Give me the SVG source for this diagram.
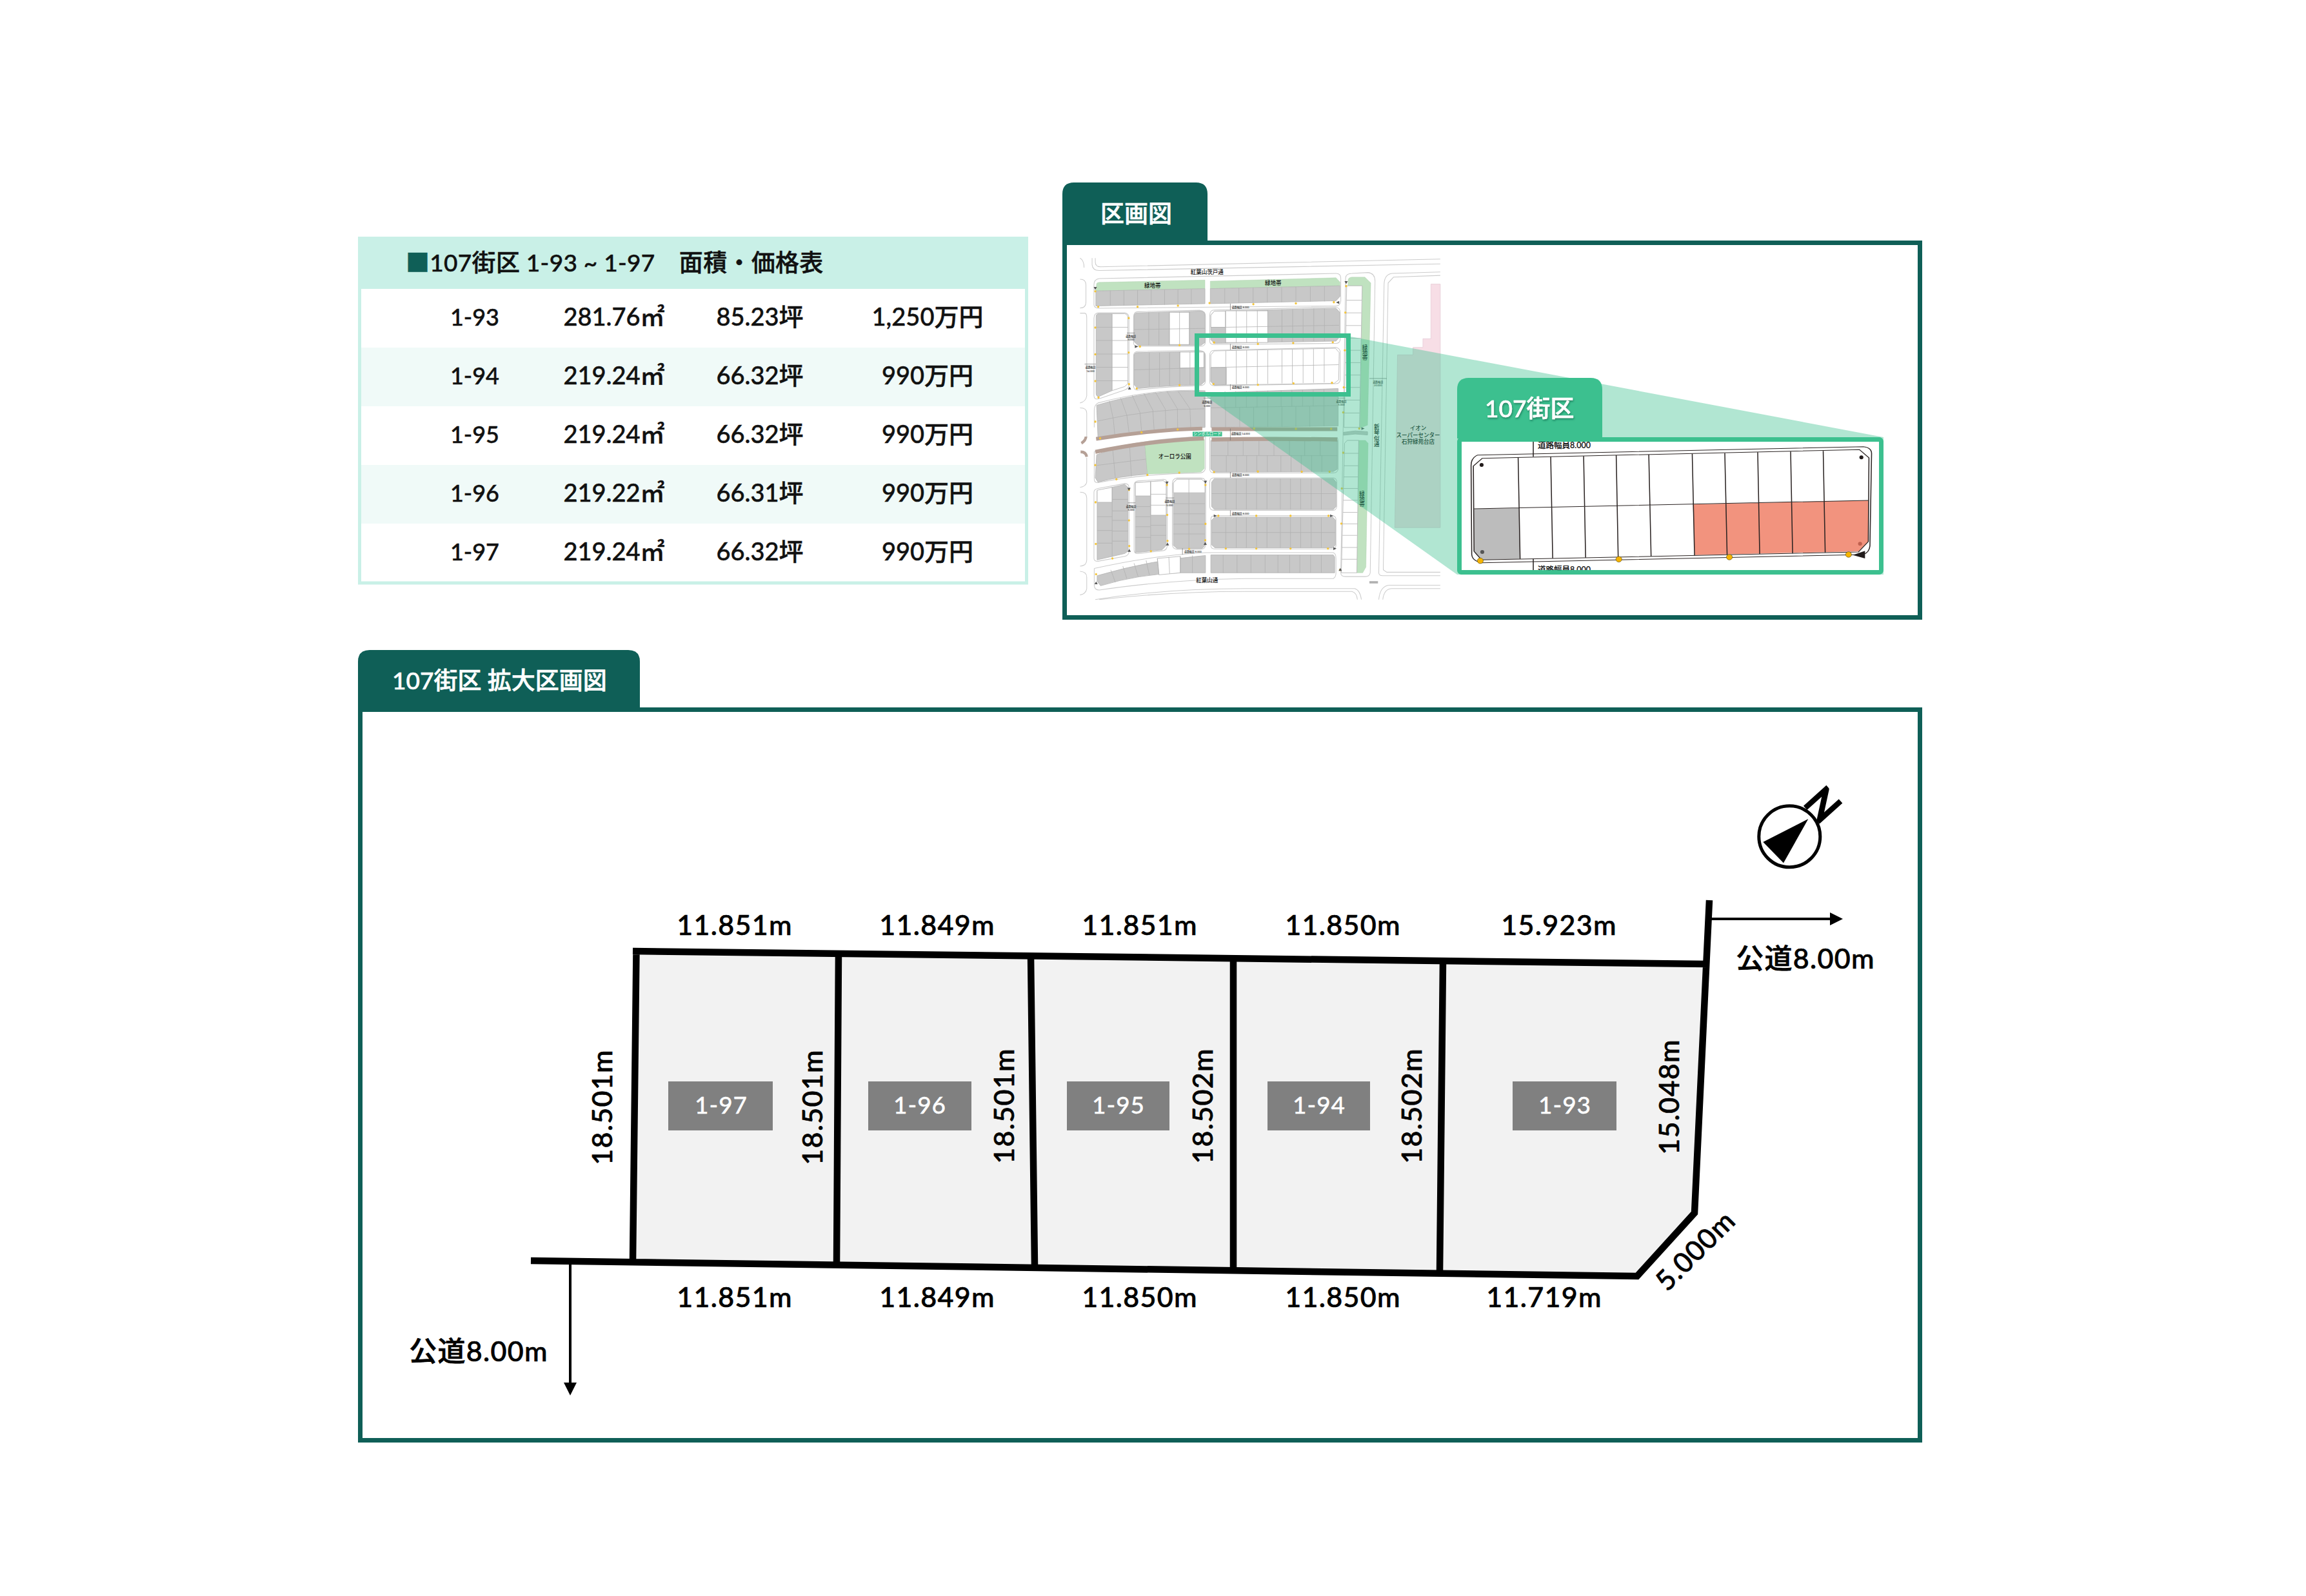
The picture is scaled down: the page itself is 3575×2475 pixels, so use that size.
<svg xmlns="http://www.w3.org/2000/svg" width="3575" height="2475" viewBox="0 0 3575 2475">
<style>
text{font-family:"Lato","Noto Sans CJK JP","Noto Sans",sans-serif;font-weight:500;fill:#111}
.cell{font-size:38px;text-anchor:middle;stroke:#111;stroke-width:.5}
.cid{font-size:36px}
.th{font-size:37px;letter-spacing:.3px;stroke:#111;stroke-width:.5}
.tabt{font-size:37px;fill:#fff;stroke:#fff;stroke-width:.6}
.dim{font-size:43px;letter-spacing:1.3px;text-anchor:middle;fill:#000;stroke:#000;stroke-width:.7}
.lot{fill:#808080}
.lott{font-size:37px;fill:#fff;text-anchor:middle;letter-spacing:1px;stroke:#fff;stroke-width:.3}
.frame{fill:none;stroke:#0f5f57;stroke-width:7}
.tab{fill:#0f5f57}
.b{stroke:#000;stroke-width:10.5;fill:none;stroke-linecap:butt;stroke-linejoin:miter}
.g{fill:#c8c8c8;stroke:#b6b6b6;stroke-width:2}
.w{fill:#fff;stroke:#b6b6b6;stroke-width:2}
.l{fill:none;stroke:#b0b0b0;stroke-width:1.8}
.r{fill:none;stroke:#cccccc;stroke-width:2.5}
.gr{fill:#c0e2c0;stroke:#aecfae;stroke-width:1}
.br{fill:none;stroke:#b5a096}
.y{fill:#f4c53c}
.mt{font-size:20.5px;fill:#666;text-anchor:middle;font-weight:400}
.mts{font-size:9.5px;fill:#555;text-anchor:middle;font-weight:400}
.d{fill:none;stroke:#666;stroke-width:1.5}
.in{fill:none;stroke:#2a2322;stroke-width:3}
.yb{fill:#f6b400;stroke:#5a4a10;stroke-width:1.5}
</style>
<defs>
<filter id="sh" x="-10%" y="-10%" width="120%" height="130%"><feDropShadow dx="1" dy="2" stdDeviation="1.5" flood-color="#0d5a45" flood-opacity=".6"/></filter>
<clipPath id="insetclip"><rect x="2265" y="685" width="649" height="199"/></clipPath>
</defs>
<rect width="3575" height="2475" fill="#fff"/>

<g id="price-table">
<rect x="557.5" y="369.5" width="1034" height="534.5" fill="#fff" stroke="#c9f0e7" stroke-width="5"/>
<rect x="555" y="367" width="1039" height="81" fill="#c9f0e7"/>
<rect x="560" y="539" width="1029" height="91" fill="#f0faf8"/>
<rect x="560" y="721" width="1029" height="91" fill="#f0faf8"/>
<text class="th" x="629" y="421"><tspan fill="#0f5f57" stroke="#0f5f57">■</tspan>107街区 1-93 ~ 1-97　面積・価格表</text>
<g class="row"><text class="cell cid" x="736" y="505">1-93</text><text class="cell" x="952" y="505">281.76㎡</text><text class="cell" x="1178" y="505">85.23坪</text><text class="cell" x="1438" y="505">1,250万円</text></g>
<g class="row"><text class="cell cid" x="736" y="596">1-94</text><text class="cell" x="952" y="596">219.24㎡</text><text class="cell" x="1178" y="596">66.32坪</text><text class="cell" x="1438" y="596">990万円</text></g>
<g class="row"><text class="cell cid" x="736" y="687">1-95</text><text class="cell" x="952" y="687">219.24㎡</text><text class="cell" x="1178" y="687">66.32坪</text><text class="cell" x="1438" y="687">990万円</text></g>
<g class="row"><text class="cell cid" x="736" y="778">1-96</text><text class="cell" x="952" y="778">219.22㎡</text><text class="cell" x="1178" y="778">66.31坪</text><text class="cell" x="1438" y="778">990万円</text></g>
<g class="row"><text class="cell cid" x="736" y="869">1-97</text><text class="cell" x="952" y="869">219.24㎡</text><text class="cell" x="1178" y="869">66.32坪</text><text class="cell" x="1438" y="869">990万円</text></g>
</g>

<g id="area-map-panel">
<rect class="frame" x="1650.5" y="376.5" width="1326" height="581"/>
<path class="tab" d="M1647 380V301Q1647 283 1665 283H1854Q1872 283 1872 301V380Z"/>
<text class="tabt" x="1706" y="345">区画図</text>
</g>

<g id="area-map" transform="translate(1640,270) scale(0.4146,0.4464)">
<path fill="#f7dee6" stroke="#e2c4d0" stroke-width="1.5" d="M1270 628H1328V602H1365V572H1395V382H1430V1228H1260Z"/>
<path class="r" d="M128 292V315Q130 335 155 335L1430 312M140 292V305Q140 322 160 322L1430 295M83 292Q98 300 98 325M83 365Q105 365 105 385V445Q105 465 83 465M83 483H100Q108 483 108 500V770Q105 790 83 795M83 812Q108 812 108 830V915M83 1105Q108 1105 108 1125V1340Q108 1360 83 1362M83 1380Q108 1382 108 1400V1440Q105 1458 83 1462M108 985V1070Q105 1085 83 1088"/>
<path class="r" d="M135 455V385Q135 365 155 363L1040 345Q1058 345 1058 362V440Q1056 458 1040 458L155 466Q137 466 135 455ZM1076 360Q1078 345 1100 345L1160 342Q1186 345 1186 372L1168 1385Q1165 1398 1150 1398H1075Q1058 1398 1058 1385ZM1430 340L1250 345Q1222 348 1220 380L1200 1385Q1200 1395 1215 1395H1430M1430 352L1255 358L1235 378L1217 1360V1375L1230 1383H1430M140 1478Q400 1440 700 1440H1110Q1130 1445 1135 1478M155 1478Q420 1450 700 1450H1100Q1118 1455 1120 1478M1200 1478Q1205 1430 1240 1428H1430M1215 1478Q1220 1440 1250 1440H1430M136 1370V1430Q138 1445 155 1445Q400 1410 700 1405H1030Q1040 1400 1040 1385M136 1370Q350 1325 552 1315H1030Q1040 1318 1040 1335V1385"/>
<path class="r" d="M135 500Q135 482 155 482H250Q266 485 266 500V730Q266 745 250 750L155 780Q135 785 135 770ZM283 498Q283 478 300 478L530 473Q552 475 552 495V580Q552 598 535 598H300Q283 598 283 585ZM283 632Q283 616 300 616L530 612Q552 615 552 630V720Q550 735 530 735Q400 738 300 750Q283 752 283 735ZM568 490Q568 472 585 472L1040 462Q1056 465 1056 482V575Q1054 588 1040 588L585 592Q568 592 568 580ZM568 630Q568 612 585 612L1040 602Q1056 605 1056 620V715Q1054 728 1040 728L585 735Q568 735 568 722ZM136 880V820Q136 802 150 795Q350 745 550 752V880M136 985V965Q350 915 552 912V1020Q550 1035 535 1038Q320 1040 150 1072Q136 1072 136 1060ZM568 915H1045Q1048 920 1048 935V1025Q1045 1038 1030 1038H585Q568 1038 568 1025ZM568 1070Q568 1055 585 1055H1030Q1043 1057 1043 1070V1155Q1040 1168 1030 1168H585Q568 1168 568 1155ZM572 1200Q572 1187 585 1187H1030Q1040 1190 1040 1200V1290Q1038 1302 1030 1302H585Q572 1302 572 1290ZM135 1105Q135 1095 150 1092L250 1075Q266 1075 266 1090V1310Q266 1325 250 1328L150 1345Q135 1345 135 1335ZM285 1080Q285 1068 300 1066L395 1060Q409 1060 409 1075V1290Q408 1305 395 1308L300 1318Q285 1320 285 1305ZM428 1075Q428 1058 445 1056H535Q553 1056 553 1075V1285Q553 1303 535 1303H445Q428 1303 428 1285Z"/>

<path class="gr" d="M145 380Q148 376 155 376L550 368V398L142 406Z"/>
<path class="gr" d="M570 372L1040 360L1055 375V388L570 398Z"/>
<path class="gr" d="M1085 372Q1085 358 1100 358H1148L1170 378L1158 872L1130 882L1138 388H1085Z"/>
<path class="gr" d="M1125 925H1150L1160 935L1152 1365L1140 1385H1118Z"/>

<path class="g" d="M142 406L550 398V450L142 458Z"/>
<path class="l" d="M196 405V457M247 404V456M298 403V455M349 402V454M399 402V454M449 401V453M499 400V452"/>
<path class="g" d="M570 398L1055 388V425L1040 440L570 450Z"/>
<path class="l" d="M624 397V449M677 396V448M730 395V447M783 394V446M837 393V445M890 392V444M944 391V443M997 390V442"/>

<path class="g" d="M143 495Q143 485 155 485H203V752L155 772Q143 775 143 760Z"/>
<path class="w" d="M203 485H250Q262 488 262 500V728L250 738L203 752Z"/>
<path class="l" d="M143 532H262M143 578H262M143 625H262M143 671H262M143 718H262"/>

<path class="g" d="M285 495Q285 482 298 482L535 476Q550 478 550 490V585L535 595H300L285 582Z"/>
<path class="w" d="M417 480H492V592H417Z"/>
<path class="l" d="M285 540L550 536M340 480V595M378 480V595M417 480V595M455 478V593M492 478V593"/>

<path class="g" d="M285 632Q285 620 298 620L535 616Q550 618 550 630V720L535 732Q400 734 300 745L285 732Z"/>
<path class="w" d="M456 618H546V672L456 674Z"/>
<path class="l" d="M285 680L550 672M342 620V738M380 620V736M418 620V734M456 618V733M494 618V732"/>

<path class="g" d="M572 490L585 476L1040 466L1054 480V565L1040 580L585 588L572 575Z"/>
<path class="w" d="M572 490L585 476H627V532H572Z"/>
<path class="w" d="M627 475H785V585H627Z"/>
<path class="l" d="M572 532H627M627 532L1052 525M627 475V587M667 474V586M706 474V586M746 473V585M785 472V584M838 470V583M878 469V582M917 468V582M957 467V581M997 466V580"/>

<path class="w" d="M585 614L1038 605L1052 620L1050 715L1033 727L585 733L572 720V628Z"/>
<path class="g" d="M572 672H630V731L585 733L572 720Z"/>
<path class="l" d="M572 672L1050 662M628 614V731M667 613V730M706 612V730M746 612V729M785 611V728M838 610V727M877 609V726M917 608V726M956 607V725M996 606V724"/>

<path class="g" d="M145 803Q350 745 550 755V880Q350 885 150 915Z"/>
<path class="l" d="M148 858Q350 815 548 815M193 788L207 850L213 905M235 778L258 838L266 897M278 768L307 828L313 892M322 762L355 820L360 888M365 758L402 817L404 885M408 755L447 815L448 883M450 755L494 815L497 882"/>
<path class="g" d="M572 760L1048 745V875L572 880Z"/>
<path class="l" d="M572 812L1048 804M625 755V812M665 754V811M705 754V811M745 753V810M785 752V809M835 751V808M875 750V808M915 750V807M955 749V807M995 748V806M627 812V880M680 811V879M732 810V879M785 809V878M838 808V878M890 808V877M942 807V877M995 806V876"/>
<path class="br" stroke-width="13" d="M143 920Q350 888 540 884M575 886H1045"/>

<path class="g" d="M145 975Q240 942 325 935L335 1042Q230 1050 150 1070L140 1055Z"/>
<path class="l" d="M145 1012L330 990M205 955L215 1055M268 940L275 1050"/>
<path fill="#c0e2c0" stroke="#aecfae" d="M325 935L548 922V1022L535 1035L335 1042Z"/>
<path class="g" d="M572 925H1045V1025L1030 1033L585 1035L572 1025Z"/>
<path class="l" d="M572 978H1045M636 925V978M693 925V978M752 925V978M808 925V978M866 925V978M923 925V978M981 925V978M630 978V1035M668 978V1035M706 978V1035M744 978V1035M783 978V1035M834 978V1035M872 978V1035M910 978V1035M949 978V1035M987 978V1035"/>
<path class="br" stroke-width="14" d="M140 965Q350 925 546 918M575 922Q800 918 1045 922"/>
<path class="br" stroke-width="10" d="M88 935Q105 925 105 912M85 965Q105 965 108 982"/>

<path class="g" d="M575 1070L585 1058H1030L1040 1070V1155L1030 1165H585L575 1155Z"/>
<path class="l" d="M575 1110H1040M628 1058V1165M667 1058V1165M705 1058V1165M743 1058V1165M782 1058V1165M832 1058V1165M870 1058V1165M908 1058V1165M947 1058V1165M985 1058V1165"/>
<path class="g" d="M575 1202L587 1192H1028L1038 1202V1288L1028 1298H587L575 1288Z"/>
<path class="l" d="M575 1245H1038M628 1192V1298M667 1192V1298M705 1192V1298M743 1192V1298M782 1192V1298M832 1192V1298M870 1192V1298M908 1192V1298M947 1192V1298M985 1192V1298"/>
<path class="g" d="M572 1323H1030L1035 1330V1385H572Z"/>
<path class="l" d="M618 1323V1385M670 1323V1385M722 1323V1385M775 1323V1385M823 1323V1385M867 1323V1385M905 1323V1385M945 1323V1385M985 1323V1385"/>
<path class="g" d="M147 1395Q350 1340 552 1325V1385H458Q300 1390 160 1430L147 1415Z"/>
<path class="w" d="M372 1335L458 1328V1385L378 1392Z"/>
<path class="l" d="M198 1375L215 1418M243 1362L258 1405M285 1352L300 1398M330 1342L342 1392M372 1335L378 1392M415 1330L418 1388M458 1328V1385M503 1325V1385"/>

<path class="g" d="M147 1100L250 1078L262 1088V1310L250 1318L147 1340Z"/>
<path class="w" d="M147 1098L203 1088V1140H147Z"/>
<path class="l" d="M203 1088V1330M147 1190H203M147 1238H203M147 1282H203M203 1130H262M203 1170H262M203 1203H262M203 1240H262M203 1275H262"/>
<path class="g" d="M290 1072L395 1065L405 1075V1290L390 1305L290 1315Z"/>
<path class="w" d="M290 1072L347 1068V1118H290Z"/>
<path class="w" d="M347 1068L395 1065L405 1075V1185H347Z"/>
<path class="l" d="M347 1068V1312M290 1155H347M290 1190H347M290 1225H347M290 1262H347M347 1112H405M347 1150H405M347 1220H405M347 1255H405"/>
<path class="g" d="M432 1072L445 1060H538L550 1072V1290L540 1300H445L432 1290Z"/>
<path class="w" d="M432 1072L445 1060H538L550 1072V1107H432Z"/>
<path class="l" d="M490 1060V1300M432 1145H550M432 1180H550M432 1216H550M432 1250H550"/>

<path class="w" d="M1080 388H1138L1128 880H1070Z"/>
<path class="l" d="M1079 438H1136M1078 482H1135M1077 526H1134M1076 570H1133M1075 612H1132M1074 655H1131M1073 698H1131M1072 741H1130M1071 785H1129M1070 830H1128"/>
<path class="w" d="M1072 935L1082 925H1125L1118 1385H1060Z"/>
<path class="l" d="M1071 970H1124M1070 1013H1123M1069 1052H1122M1068 1092H1122M1067 1133H1121M1066 1175H1120M1065 1215H1120M1064 1255H1119M1063 1297H1119M1062 1338H1118"/>
<path class="g" d="M1068 897L1112 892L1158 895V906L1112 903L1068 907Z"/>

<path class="d" d="M645 450V472M645 590V610M645 730V750M645 1035V1055M645 1168V1188M645 884V925M466 1300V1322M258 552H288M100 660H142M545 778H572M1047 778H1075M1165 710H1230M262 1142H290M403 1125H435"/>
<g class="mts">
<text x="683" y="465">道路幅員 8.000</text><text x="683" y="604">道路幅員 8.000</text><text x="683" y="743">道路幅員 8.000</text><text x="683" y="906">道路幅員 14.000</text><text x="683" y="1049">道路幅員 8.000</text><text x="683" y="1182">道路幅員 8.000</text><text x="505" y="1315">道路幅員 8.000</text>
<text x="273" y="567">道路幅員</text><text x="273" y="579">5.000</text><text x="122" y="675">道路幅員</text><text x="122" y="687">14.000</text><text x="558" y="796">道路幅員</text><text x="558" y="808">5.000</text><text x="1060" y="793">道路幅員</text><text x="1060" y="805">5.000</text><text x="1197" y="725">道路幅員</text><text x="1197" y="737">20.000</text><text x="274" y="1158">道路幅員</text><text x="274" y="1170">5.000</text><text x="418" y="1141">道路幅員</text><text x="418" y="1153">5.000</text>
</g>
<g class="mt">
<text x="558" y="347">紅葉山茨戸通</text><text x="354" y="395">緑地帯</text><text x="805" y="386">緑地帯</text><text x="558" y="1419">紅葉山通</text><text x="437" y="988">オーロラ公園</text>
<text x="1148" y="610">緑</text><text x="1148" y="628">地</text><text x="1148" y="646">帯</text>
<text x="1137" y="1117">緑</text><text x="1137" y="1135">地</text><text x="1137" y="1153">帯</text>
<text x="1192" y="885">新</text><text x="1192" y="905">琴</text><text x="1192" y="925">似</text><text x="1192" y="945">通</text>
<text x="1347" y="890">イオン</text><text x="1347" y="913">スーパーセンター</text><text x="1347" y="936">石狩緑苑台店</text>
</g>
<rect x="504" y="895" width="110" height="16" fill="#3cc08f"/>
<text x="559" y="908" class="mt" style="font-size:15px;fill:#fff">シンボルロード</text>
<g class="y">
<circle cx="140" cy="407" r="4"/><circle cx="151" cy="461" r="4"/><circle cx="298" cy="461" r="4"/><circle cx="449" cy="457" r="4"/><circle cx="567" cy="448" r="4"/><circle cx="731" cy="452" r="4"/><circle cx="890" cy="449" r="4"/><circle cx="1032" cy="445" r="4"/><circle cx="1078" cy="389" r="4"/><circle cx="1075" cy="481" r="4"/><circle cx="265" cy="500" r="4"/><circle cx="140" cy="533" r="4"/><circle cx="265" cy="620" r="4"/><circle cx="140" cy="626" r="4"/><circle cx="140" cy="719" r="4"/><circle cx="266" cy="730" r="4"/><circle cx="152" cy="776" r="4"/><circle cx="295" cy="745" r="4"/><circle cx="455" cy="733" r="4"/><circle cx="455" cy="594" r="4"/><circle cx="307" cy="599" r="4"/><circle cx="584" cy="585" r="4"/><circle cx="748" cy="590" r="4"/><circle cx="880" cy="587" r="4"/><circle cx="1028" cy="584" r="4"/><circle cx="1073" cy="612" r="4"/><circle cx="1069" cy="741" r="4"/><circle cx="582" cy="729" r="4"/><circle cx="748" cy="732" r="4"/><circle cx="881" cy="727" r="4"/><circle cx="1025" cy="725" r="4"/><circle cx="1067" cy="828" r="4"/><circle cx="1127" cy="884" r="4"/><circle cx="1067" cy="968" r="4"/><circle cx="1062" cy="1092" r="4"/><circle cx="1060" cy="1214" r="4"/><circle cx="1055" cy="1375" r="4"/><circle cx="448" cy="887" r="4"/><circle cx="313" cy="897" r="4"/><circle cx="158" cy="918" r="4"/><circle cx="140" cy="860" r="4"/><circle cx="140" cy="1011" r="4"/><circle cx="219" cy="1060" r="4"/><circle cx="335" cy="1045" r="4"/><circle cx="454" cy="1037" r="4"/><circle cx="584" cy="1035" r="4"/><circle cx="748" cy="1033" r="4"/><circle cx="912" cy="1034" r="4"/><circle cx="1016" cy="1034" r="4"/><circle cx="734" cy="884" r="4"/><circle cx="890" cy="885" r="4"/><circle cx="1022" cy="885" r="4"/><circle cx="600" cy="1187" r="4"/><circle cx="742" cy="1187" r="4"/><circle cx="870" cy="1187" r="4"/><circle cx="1012" cy="1187" r="4"/><circle cx="628" cy="1301" r="4"/><circle cx="742" cy="1301" r="4"/><circle cx="870" cy="1301" r="4"/><circle cx="1010" cy="1301" r="4"/><circle cx="141" cy="1140" r="4"/><circle cx="142" cy="1285" r="4"/><circle cx="204" cy="1335" r="4"/><circle cx="266" cy="1097" r="4"/><circle cx="266" cy="1203" r="4"/><circle cx="267" cy="1292" r="4"/><circle cx="348" cy="1310" r="4"/><circle cx="409" cy="1184" r="4"/><circle cx="410" cy="1274" r="4"/><circle cx="408" cy="1080" r="4"/><circle cx="552" cy="1080" r="4"/><circle cx="552" cy="1215" r="4"/><circle cx="551" cy="1272" r="4"/><circle cx="491" cy="1302" r="4"/><circle cx="143" cy="1390" r="4"/>
</g>
<g fill="#555"><path d="M134 392H146L140 402Z"/><path d="M1072 372H1084L1078 382Z"/><path d="M1052 441L1040 446L1052 451Z"/><path d="M288 594L300 599L288 604Z"/><path d="M402 1068H414L408 1078Z"/><path d="M546 1065H558L552 1075Z"/><path d="M260 1090H272L266 1100Z"/><path d="M262 748L268 738L274 748Z"/><path d="M404 1290L410 1280L416 1290Z"/><path d="M545 1288L551 1278L557 1288Z"/><path d="M261 1312L267 1302L273 1312Z"/><path d="M137 1425L143 1415L149 1425Z"/><path d="M1050 1378L1056 1368L1062 1378Z"/><path d="M1147 884L1135 879V889Z"/><path d="M1030 1187L1018 1182V1192Z"/><path d="M583 1182L595 1187L583 1192Z"/><path d="M1042 1301L1030 1296V1306Z"/></g>
<path class="l" d="M1165 1418H1197" style="stroke-width:8"/>
</g>

<g id="connectors">
<path fill="#3cc08f" fill-opacity=".4" d="M2094 522L2920 678V891H2259L1870 615H2094Z"/>
<g id="map-highlight"><rect x="1855.5" y="520.5" width="235" height="91" fill="none" stroke="#3cc08f" stroke-width="7"/></g>
</g>

<g id="block-107-inset">
<rect x="2262.5" y="681.5" width="654" height="206" rx="3" fill="#fff" stroke="#3cc08f" stroke-width="7"/>
<path d="M2259 680V604Q2259 586 2277 586H2466Q2484 586 2484 604V680Z" fill="#3cc08f"/>
<text x="2302" y="647" style="font-size:37px;fill:#fff;stroke:#fff;stroke-width:.5" filter="url(#sh)">107街区</text>
<g clip-path="url(#insetclip)">
<g transform="translate(2200,540) scale(0.5102,0.3333)">
<path fill="#bcbcbc" d="M167 748L303 745L308 980L192 985L167 945Z"/>
<path fill="#f2937e" d="M832 727L1365 708V900L1335 945L838 962Z"/>
<path class="in" d="M178 497L1350 458Q1375 462 1375 490L1370 920Q1368 950 1350 960L190 998Q162 990 160 960L158 545Q158 510 178 497Z"/>
<path class="in" d="M192 512L1338 472L1367 510L1365 900L1335 948L190 985L167 945L165 548Z"/>
<path class="in" d="M301 508L307 980M400 505L406 977M500 502L506 974M599 498L605 971M698 495L705 968M830 491L837 963M929 488L936 960M1029 484L1035 957M1129 481L1135 954M1228 478L1234 950M167 747L1365 708"/>
<path class="in" d="M347 435V505M347 980V1032"/>
<g fill="#221c1c"><ellipse cx="190" cy="543" rx="6" ry="9"/><ellipse cx="1344" cy="508" rx="6" ry="9"/><ellipse cx="192" cy="948" rx="6" ry="9" fill="#555"/><ellipse cx="1340" cy="910" rx="6" ry="9" fill="#c0604e"/><path d="M1318 962L1355 943V978Z"/></g>
<g class="yb"><ellipse cx="186" cy="989" rx="9" ry="13"/><ellipse cx="607" cy="982" rx="9" ry="13"/><ellipse cx="943" cy="972" rx="9" ry="13"/><ellipse cx="1305" cy="960" rx="9" ry="13"/></g>
</g>
<text x="2384" y="695" style="font-size:12.5px;fill:#111;stroke:#111;stroke-width:.2">道路幅員8.000</text>
<text x="2384" y="888" style="font-size:12.5px;fill:#111;stroke:#111;stroke-width:.2">道路幅員8.000</text>
</g>
</g>

<g id="plot-panel">
<rect class="frame" x="558.5" y="1100.5" width="2418" height="1133"/>
<path class="tab" d="M555 1104V1026Q555 1008 573 1008H974Q992 1008 992 1026V1104Z"/>
<text class="tabt" x="608" y="1069">107街区 拡大区画図</text>
</g>

<g id="parcels-bg">
<path fill="#f2f2f2" d="M986 1475L2643 1495L2627 1881L2538 1979L981 1955Z"/>
</g>
<g id="connectors-boundaries">
<path class="b" d="M986.5 1470V1475L981 1955M981 1475L2648 1495M823 1955L2538 1979L2627 1881L2650 1396"/>
<path class="b" d="M1300 1478L1297 1959M1598 1482L1604 1962M1912 1486V1967M2237 1490L2232 1972"/>
<path d="M884 1955V2144" stroke="#000" stroke-width="4" fill="none"/>
<path d="M884 2164L874 2144H894Z" fill="#000"/>
<path d="M2650 1425H2837" stroke="#000" stroke-width="4" fill="none"/>
<path d="M2857 1425L2837 1415V1435Z" fill="#000"/>
</g>

<g id="lot-1-97"><rect class="lot" x="1036" y="1677" width="162" height="76"/><text class="lott" x="1118" y="1727">1-97</text></g>
<g id="lot-1-96"><rect class="lot" x="1346" y="1677" width="160" height="76"/><text class="lott" x="1426" y="1727">1-96</text></g>
<g id="lot-1-95"><rect class="lot" x="1654" y="1677" width="159" height="76"/><text class="lott" x="1734" y="1727">1-95</text></g>
<g id="lot-1-94"><rect class="lot" x="1965" y="1677" width="159" height="76"/><text class="lott" x="2045" y="1727">1-94</text></g>
<g id="lot-1-93"><rect class="lot" x="2345" y="1677" width="161" height="76"/><text class="lott" x="2426" y="1727">1-93</text></g>

<g id="dimensions">
<text class="dim" x="1139" y="1450">11.851m</text>
<text class="dim" x="1453" y="1450">11.849m</text>
<text class="dim" x="1767" y="1450">11.851m</text>
<text class="dim" x="2082" y="1450">11.850m</text>
<text class="dim" x="2417" y="1450">15.923m</text>
<text class="dim" x="1139" y="2027">11.851m</text>
<text class="dim" x="1453" y="2027">11.849m</text>
<text class="dim" x="1767" y="2027">11.850m</text>
<text class="dim" x="2082" y="2027">11.850m</text>
<text class="dim" x="2394" y="2027">11.719m</text>
<text class="dim" transform="translate(949,1717) rotate(-90)">18.501m</text>
<text class="dim" transform="translate(1275,1717) rotate(-90)">18.501m</text>
<text class="dim" transform="translate(1572,1715) rotate(-90)">18.501m</text>
<text class="dim" transform="translate(1880,1715) rotate(-90)">18.502m</text>
<text class="dim" transform="translate(2204,1715) rotate(-90)">18.502m</text>
<text class="dim" transform="translate(2603,1701) rotate(-90)">15.048m</text>
<text class="dim" transform="translate(2639,1950) rotate(-45)">5.000m</text>
<text class="dim" x="2799" y="1502">公道8.00m</text>
<text class="dim" x="742" y="2111">公道8.00m</text>
</g>

<g id="compass">
<circle cx="2774.3" cy="1297.3" r="47.5" fill="none" stroke="#000" stroke-width="5"/>
<path d="M2803.3 1270L2733.3 1305.7L2765 1338.3Z" fill="#000"/>
<text transform="translate(2809,1263) rotate(48) scale(.92,1)" text-anchor="middle" style="font-size:64px;font-weight:700;fill:#000;stroke:#000;stroke-width:1.5">N</text>
</g>
</svg>
